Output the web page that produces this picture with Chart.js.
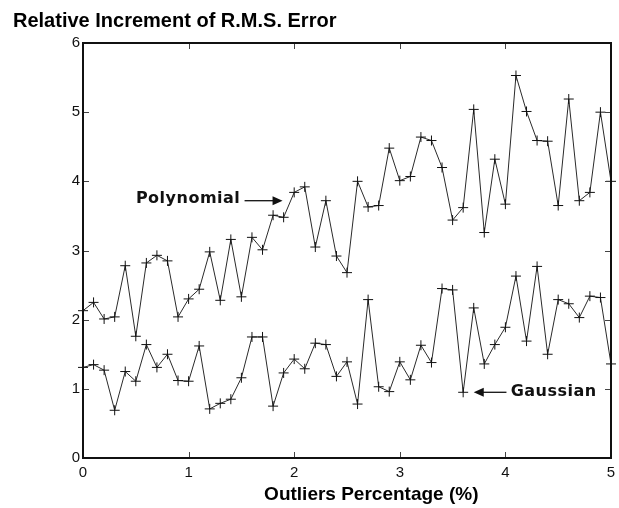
<!DOCTYPE html>
<html lang="en">
<head>
<meta charset="UTF-8">
<title>Relative Increment of R.M.S. Error</title>
<script src="https://cdn.jsdelivr.net/npm/chart.js"></script>
<style>
    html, body {
        margin: 0;
        padding: 0;
        background: #fff;
    }
</style>
</head>
<body>
<canvas id="rmsChart" width="619" height="508"></canvas>
<script>
// outliers percentage (%), one point every 0.1
const outliers = [0, 0.1, 0.2, 0.3, 0.4, 0.5, 0.6, 0.7, 0.8, 0.9, 1.0,
    1.1, 1.2, 1.3, 1.4, 1.5, 1.6, 1.7, 1.8, 1.9, 2.0,
    2.1, 2.2, 2.3, 2.4, 2.5, 2.6, 2.7, 2.8, 2.9, 3.0,
    3.1, 3.2, 3.3, 3.4, 3.5, 3.6, 3.7, 3.8, 3.9, 4.0,
    4.1, 4.2, 4.3, 4.4, 4.5, 4.6, 4.7, 4.8, 4.9, 5.0];

const polynomial = [2.13, 2.25, 2.01, 2.04, 2.78, 1.76, 2.82, 2.93, 2.85, 2.04, 2.30,
    2.44, 2.98, 2.28, 3.16, 2.33, 3.19, 3.01, 3.51, 3.48, 3.84,
    3.92, 3.05, 3.72, 2.92, 2.68, 4.00, 3.63, 3.65, 4.48, 4.01,
    4.07, 4.64, 4.59, 4.20, 3.44, 3.62, 5.04, 3.26, 4.32, 3.67,
    5.53, 5.01, 4.59, 4.58, 3.65, 5.19, 3.72, 3.84, 5.00, 4.00];

const gaussian = [1.31, 1.35, 1.27, 0.69, 1.25, 1.11, 1.64, 1.31, 1.50, 1.12, 1.11,
    1.62, 0.71, 0.79, 0.85, 1.16, 1.75, 1.75, 0.75, 1.23, 1.43,
    1.29, 1.66, 1.64, 1.18, 1.39, 0.78, 2.29, 1.03, 0.96, 1.39,
    1.13, 1.63, 1.38, 2.45, 2.43, 0.95, 2.17, 1.36, 1.64, 1.89,
    2.63, 1.69, 2.77, 1.50, 2.29, 2.23, 2.03, 2.34, 2.32, 1.36];

const xTicks = [0, 1, 2, 3, 4, 5];
const yTicks = [0, 1, 2, 3, 4, 5, 6];

const xTitle = 'Outliers Percentage (%)';

// text labels with arrows, placed in data units
const notes = [
    { text: 'Polynomial', x: 1.49, y: 3.75, align: 'right', from: [1.53, 3.72], to: [1.89, 3.72] },
    { text: 'Gaussian', x: 4.05, y: 0.95, align: 'left', from: [4.01, 0.95], to: [3.70, 0.95] }
];

function toPoints(ys) {
    return outliers.map((x, i) => ({ x: x, y: ys[i] }));
}

// box round the plot, inward ticks, the x title and the two arrow labels
const matlabBox = {
    id: 'matlabBox',
    afterDatasetsDraw(chart) {
        const { ctx, chartArea: a, scales: { x, y } } = chart;
        ctx.save();
        ctx.strokeStyle = '#444';
        ctx.lineWidth = 1;
        ctx.beginPath();
        xTicks.slice(1, -1).forEach(v => {
            const px = Math.round(x.getPixelForValue(v)) + 0.5;
            ctx.moveTo(px, a.top); ctx.lineTo(px, a.top + 6);
            ctx.moveTo(px, a.bottom); ctx.lineTo(px, a.bottom - 6);
        });
        yTicks.slice(1, -1).forEach(v => {
            const py = Math.round(y.getPixelForValue(v)) + 0.5;
            ctx.moveTo(a.left, py); ctx.lineTo(a.left + 6, py);
            ctx.moveTo(a.right, py); ctx.lineTo(a.right - 6, py);
        });
        ctx.stroke();

        ctx.strokeStyle = '#111';
        ctx.lineWidth = 2;
        ctx.strokeRect(a.left, a.top, a.right - a.left, a.bottom - a.top);

        // axis title sits a bit right of the plot centre in the original
        ctx.fillStyle = '#000';
        ctx.font = 'bold 19px "Liberation Sans", Arial, sans-serif';
        ctx.textAlign = 'center';
        ctx.textBaseline = 'middle';
        ctx.fillText(xTitle, x.getPixelForValue(2.73), 495);

        ctx.fillStyle = '#111';
        ctx.font = 'bold 16px "DejaVu Sans", Verdana, sans-serif';
        ctx.letterSpacing = '0.5px';
        notes.forEach(n => {
            ctx.textAlign = n.align;
            ctx.fillText(n.text, x.getPixelForValue(n.x), y.getPixelForValue(n.y));
            const x1 = x.getPixelForValue(n.from[0]), y1 = y.getPixelForValue(n.from[1]);
            const x2 = x.getPixelForValue(n.to[0]), y2 = y.getPixelForValue(n.to[1]);
            const dir = Math.sign(x2 - x1);
            ctx.lineWidth = 1.3;
            ctx.beginPath();
            ctx.moveTo(x1, y1);
            ctx.lineTo(x2 - dir * 8, y2);
            ctx.stroke();
            ctx.beginPath();
            ctx.moveTo(x2, y2);
            ctx.lineTo(x2 - dir * 10, y2 - 4.5);
            ctx.lineTo(x2 - dir * 10, y2 + 4.5);
            ctx.closePath();
            ctx.fill();
        });
        ctx.restore();
    }
};

const seriesStyle = {
    borderColor: '#2a2a2a',
    borderWidth: 1,
    pointStyle: 'cross',
    pointRadius: 5,
    pointBorderColor: '#111',
    pointBorderWidth: 1,
    pointBackgroundColor: '#111',
    tension: 0,
    fill: false,
    clip: false
};

new Chart(document.getElementById('rmsChart').getContext('2d'), {
    type: 'line',
    data: {
        datasets: [
            Object.assign({ label: 'Polynomial', data: toPoints(polynomial) }, seriesStyle),
            Object.assign({ label: 'Gaussian', data: toPoints(gaussian) }, seriesStyle)
        ]
    },
    options: {
        responsive: false,
        animation: false,
        devicePixelRatio: 1,
        layout: { padding: { left: 13, right: 8, top: 0, bottom: 0 } },
        plugins: {
            legend: { display: false },
            tooltip: { enabled: false },
            title: {
                display: true,
                text: 'Relative Increment of R.M.S. Error',
                align: 'start',
                color: '#000',
                font: { family: '"Liberation Sans", Arial, sans-serif', size: 20, weight: 'bold' },
                padding: { top: 9, bottom: 10 }
            }
        },
        scales: {
            x: {
                type: 'linear',
                min: 0,
                max: 5,
                afterBuildTicks: s => { s.ticks = xTicks.map(v => ({ value: v })); },
                afterFit: s => { s.height = 50; s.paddingLeft = 0; s.paddingRight = 0; },
                grid: { display: false, drawTicks: false },
                border: { display: false },
                ticks: {
                    color: '#111',
                    padding: 6,
                    maxRotation: 0,
                    font: { family: '"Liberation Sans", Arial, sans-serif', size: 15 }
                }
            },
            y: {
                type: 'linear',
                min: 0,
                max: 6,
                afterBuildTicks: s => { s.ticks = yTicks.map(v => ({ value: v })); },
                afterFit: s => { s.width = 70; },
                grid: { display: false, drawTicks: false },
                border: { display: false },
                ticks: {
                    color: '#111',
                    padding: 3,
                    font: { family: '"Liberation Sans", Arial, sans-serif', size: 15 }
                }
            }
        }
    },
    plugins: [matlabBox]
});
</script>
</body>
</html>
